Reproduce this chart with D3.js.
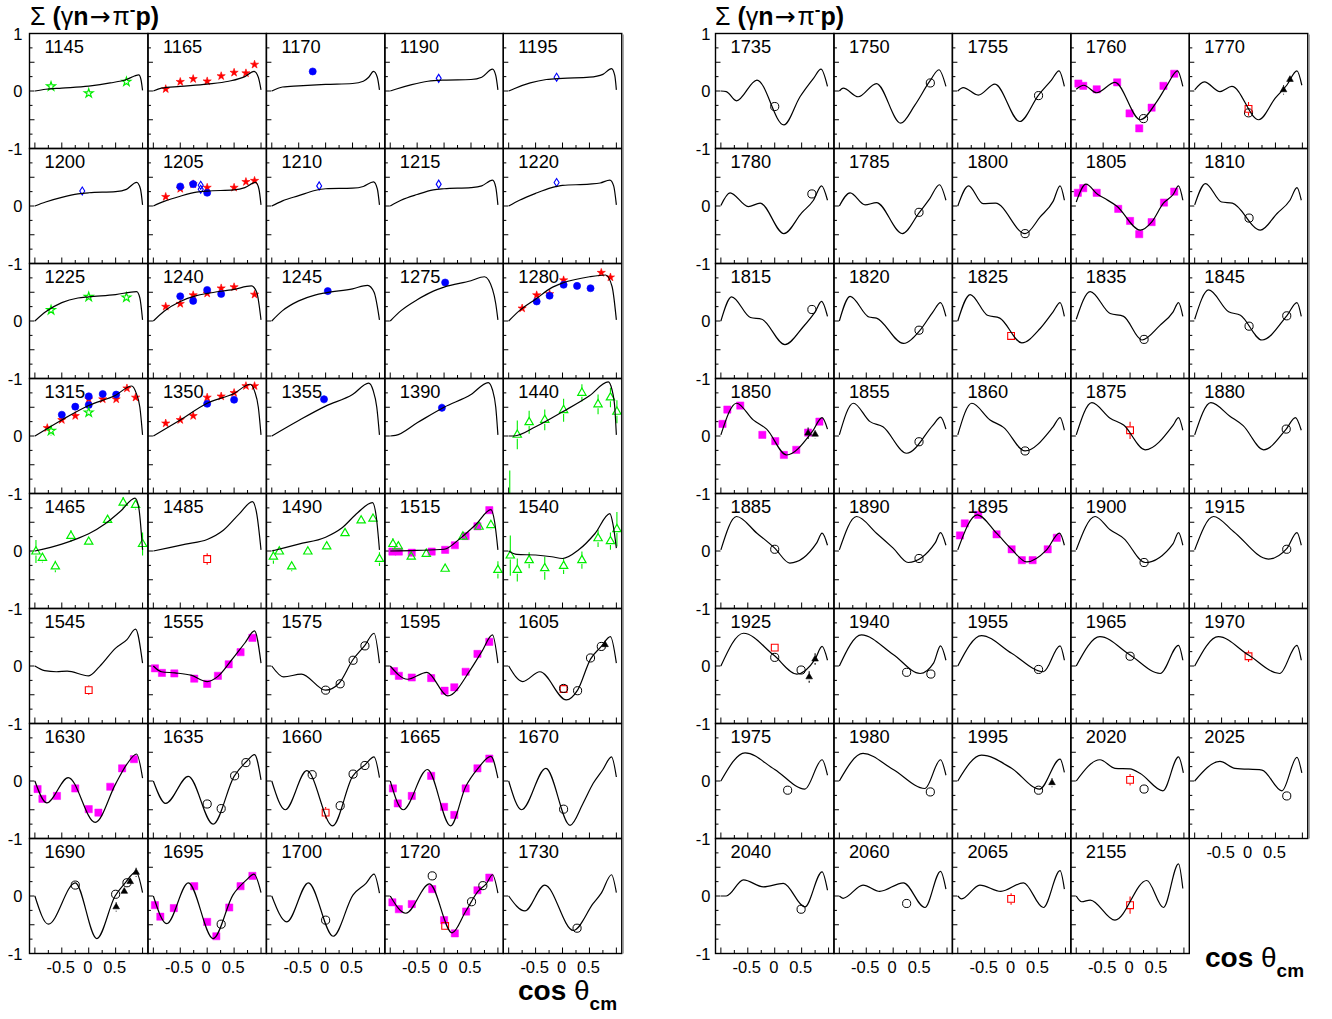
<!DOCTYPE html>
<html>
<head>
<meta charset="utf-8">
<title>Beam asymmetry Σ for γn→π⁻p</title>
<script src="https://cdn.jsdelivr.net/npm/d3@7"></script>
<style>
  html, body { margin: 0; padding: 0; background: #fff; }
  svg { display: block; }
  text { font-family: "Liberation Sans", Arial, Helvetica, sans-serif; fill: #000; }
</style>
</head>
<body>
<svg id="chart" width="1332" height="1019"></svg>
<script>
// Photon energies (MeV), one per panel, in reading order
const energiesLeft = [1145,1165,1170,1190,1195, 1200,1205,1210,1215,1220, 1225,1240,1245,1275,1280,
  1315,1350,1355,1390,1440, 1465,1485,1490,1515,1540, 1545,1555,1575,1595,1605,
  1630,1635,1660,1665,1670, 1690,1695,1700,1720,1730];
const energiesRight = [1735,1750,1755,1760,1770, 1780,1785,1800,1805,1810, 1815,1820,1825,1835,1845,
  1850,1855,1860,1875,1880, 1885,1890,1895,1900,1915, 1925,1940,1955,1965,1970,
  1975,1980,1995,2020,2025, 2040,2060,2065,2155];

// Model prediction: knots [cos θ, Σ] for each panel
const curvesLeft = [
  [[-1,0],[-0.8,0.03],[-0.5,0.05],[0,0.085],[0.4,0.14],[0.7,0.2],[0.85,0.26],[0.93,0.28],[0.97,0.2],[1,0.01]],
  [[-1,0],[-0.85,0.05],[-0.5,0.08],[0,0.12],[0.4,0.17],[0.7,0.25],[0.87,0.34],[0.95,0.24],[1,0.02]],
  [[-1,0],[-0.8,0.07],[-0.5,0.09],[0,0.115],[0.5,0.13],[0.7,0.17],[0.8,0.24],[0.89,0.34],[0.96,0.24],[1,0.02]],
  [[-1,0],[-0.9,0.03],[-0.6,0.11],[-0.3,0.17],[0,0.19],[0.5,0.2],[0.7,0.24],[0.9,0.38],[0.96,0.27],[1,0.02]],
  [[-1,0],[-0.9,0.04],[-0.6,0.14],[-0.3,0.2],[0,0.22],[0.5,0.24],[0.75,0.29],[0.91,0.39],[0.97,0.27],[1,0.02]],
  [[-1,0],[-0.8,0.07],[-0.5,0.15],[-0.2,0.21],[0,0.23],[0.5,0.25],[0.7,0.29],[0.89,0.41],[0.96,0.3],[1,0.02]],
  [[-1,0],[-0.8,0.08],[-0.5,0.17],[-0.2,0.24],[0,0.26],[0.5,0.28],[0.7,0.32],[0.9,0.41],[0.96,0.3],[1,0.02]],
  [[-1,0],[-0.8,0.09],[-0.5,0.18],[-0.2,0.27],[0,0.3],[0.5,0.31],[0.7,0.34],[0.89,0.42],[0.96,0.3],[1,0.02]],
  [[-1,0],[-0.8,0.1],[-0.5,0.2],[-0.2,0.28],[0,0.3],[0.5,0.32],[0.7,0.35],[0.9,0.45],[0.96,0.33],[1,0.02]],
  [[-1,0],[-0.8,0.1],[-0.5,0.22],[-0.2,0.32],[0,0.36],[0.5,0.38],[0.7,0.4],[0.88,0.45],[0.95,0.35],[1,0.02]],
  [[-1,0],[-0.8,0.16],[-0.5,0.32],[-0.2,0.4],[0,0.42],[0.5,0.46],[0.89,0.51],[0.95,0.4],[1,0.02]],
  [[-1,0],[-0.8,0.17],[-0.5,0.34],[-0.2,0.44],[0,0.48],[0.5,0.55],[0.82,0.61],[0.92,0.5],[1,0.02]],
  [[-1,0],[-0.8,0.18],[-0.5,0.35],[-0.2,0.45],[0,0.49],[0.5,0.56],[0.78,0.62],[0.9,0.5],[1,0.02]],
  [[-1,0],[-0.8,0.18],[-0.5,0.37],[-0.2,0.52],[0,0.59],[0.5,0.7],[0.75,0.77],[0.9,0.55],[0.96,0.3],[1,0.02]],
  [[-1,0],[-0.8,0.18],[-0.5,0.38],[-0.2,0.58],[0,0.66],[0.5,0.77],[0.8,0.8],[0.92,0.6],[1,0.02]],
  [[-1,0],[-0.5,0.28],[0,0.53],[0.5,0.71],[0.8,0.87],[0.88,0.75],[0.95,0.5],[1,0.02]],
  [[-1,0],[-0.5,0.28],[0,0.57],[0.5,0.74],[0.8,0.9],[0.88,0.78],[0.95,0.5],[1,0.02]],
  [[-1,0],[-0.5,0.27],[0,0.52],[0.5,0.72],[0.8,0.92],[0.88,0.8],[0.95,0.5],[1,0.02]],
  [[-1,0],[-0.9,0.01],[-0.5,0.23],[0,0.5],[0.5,0.72],[0.82,0.93],[0.9,0.8],[0.96,0.5],[1,0.02]],
  [[-1,0],[-0.9,0],[-0.5,0.16],[0,0.42],[0.5,0.7],[0.85,0.94],[0.92,0.8],[0.97,0.5],[1,0.02]],
  [[-1,0],[-0.5,0.12],[-0.2,0.22],[0,0.3],[0.3,0.47],[0.6,0.7],[0.86,0.92],[0.93,0.75],[1,0.02]],
  [[-1,0],[-0.7,0.06],[-0.4,0.12],[0,0.2],[0.3,0.36],[0.6,0.65],[0.84,0.86],[0.92,0.65],[1,0.02]],
  [[-1,0],[-0.5,0.12],[0,0.24],[0.3,0.4],[0.6,0.67],[0.87,0.84],[0.94,0.6],[1,0.02]],
  [[-1,0],[-0.5,0.01],[0,0.03],[0.3,0.22],[0.6,0.47],[0.87,0.72],[0.94,0.5],[1,0.02]],
  [[-1,0],[-0.85,-0.06],[-0.5,-0.07],[-0.2,-0.1],[0,-0.13],[0.3,0.02],[0.6,0.3],[0.88,0.65],[0.94,0.45],[1,0.05]],
  [[-1,0],[-0.82,-0.08],[-0.6,-0.1],[-0.4,-0.09],[0,-0.17],[0.2,-0.01],[0.5,0.31],[0.71,0.46],[0.87,0.64],[1,0.05]],
  [[-1,0],[-0.85,-0.1],[-0.6,-0.12],[-0.3,-0.16],[0,-0.27],[0.2,-0.18],[0.45,0.1],[0.7,0.4],[0.88,0.61],[1,0.05]],
  [[-1,0],[-0.78,-0.19],[-0.45,-0.14],[0,-0.42],[0.25,-0.3],[0.5,0.1],[0.73,0.36],[0.9,0.57],[1,0.05]],
  [[-1,0],[-0.68,-0.23],[-0.32,-0.11],[0.07,-0.52],[0.5,-0.05],[0.7,0.25],[0.9,0.54],[1,0.05]],
  [[-1,0],[-0.74,-0.27],[-0.42,-0.1],[0.07,-0.59],[0.28,-0.42],[0.52,0.12],[0.72,0.34],[0.89,0.51],[1,0.05]],
  [[-1,0],[-0.78,-0.38],[-0.38,0.06],[0.12,-0.72],[0.5,-0.05],[0.7,0.28],[0.89,0.47],[1,0.05]],
  [[-1,0],[-0.77,-0.39],[-0.35,0.08],[0.11,-0.75],[0.5,0.08],[0.73,0.34],[0.88,0.46],[1,0.02]],
  [[-1,0],[-0.75,-0.5],[-0.35,0.18],[0.13,-0.78],[0.5,0.08],[0.73,0.28],[0.9,0.42],[1,0.06]],
  [[-1,0],[-0.76,-0.5],[-0.31,0.2],[0.12,-0.78],[0.4,-0.1],[0.63,0.22],[0.87,0.43],[1,0.05]],
  [[-1,0],[-0.76,-0.5],[-0.31,0.22],[0.14,-0.77],[0.38,-0.39],[0.57,-0.04],[0.75,0.2],[0.91,0.42],[1,0.07]],
  [[-1,0],[-0.75,-0.49],[-0.25,0.23],[0.15,-0.74],[0.49,0],[0.67,0.22],[0.88,0.42],[1,0.06]],
  [[-1,0],[-0.75,-0.48],[-0.35,0.23],[0.11,-0.74],[0.48,0.02],[0.73,0.28],[0.87,0.38],[1,0.06]],
  [[-1,0],[-0.72,-0.45],[-0.32,0.23],[0.14,-0.7],[0.51,0.02],[0.75,0.22],[0.9,0.38],[1,0.05]],
  [[-1,0],[-0.71,-0.3],[-0.27,0.21],[0.15,-0.64],[0.4,-0.27],[0.63,0.08],[0.79,0.22],[0.9,0.37],[1,0.05]],
  [[-1,0],[-0.7,-0.26],[-0.33,0.19],[0.2,-0.6],[0.57,-0.13],[0.72,0.05],[0.91,0.37],[1,0.06]]
];
const curvesRight = [
  [[-1,0],[-0.9,-0.01],[-0.71,-0.17],[-0.33,0.19],[0.17,-0.59],[0.47,-0.1],[0.72,0.22],[0.86,0.38],[0.98,0.08]],
  [[-1,0],[-0.93,0.05],[-0.65,-0.1],[-0.31,0.13],[0.14,-0.56],[0.4,-0.25],[0.68,0.17],[0.85,0.37],[0.98,0.08]],
  [[-1,0],[-0.9,0.06],[-0.62,-0.07],[-0.31,0.12],[0.15,-0.53],[0.5,-0.07],[0.74,0.19],[0.88,0.35],[0.98,0.08]],
  [[-1,0.03],[-0.86,0.1],[-0.62,-0.03],[-0.28,0.15],[0.19,-0.5],[0.5,-0.18],[0.7,0.12],[0.88,0.35],[0.98,0.08]],
  [[-1,0.02],[-0.82,0.16],[-0.53,-0.01],[-0.31,0.08],[0.19,-0.5],[0.5,-0.12],[0.71,0.1],[0.9,0.35],[0.99,0.1]],
  [[-1,0.01],[-0.83,0.23],[-0.49,-0.01],[-0.27,0.05],[0.17,-0.48],[0.5,-0.12],[0.72,0.1],[0.87,0.35],[0.98,0.1]],
  [[-1,0],[-0.8,0.23],[-0.52,0.02],[-0.31,0.06],[0.17,-0.48],[0.48,-0.12],[0.68,0.13],[0.86,0.37],[0.98,0.1]],
  [[-1,0],[-0.8,0.35],[-0.53,0.04],[-0.3,0.05],[0.25,-0.48],[0.53,-0.19],[0.77,0.08],[0.9,0.35],[0.98,0.1]],
  [[-1,0.07],[-0.82,0.38],[-0.6,0.2],[-0.45,0.12],[-0.25,0],[0.19,-0.42],[0.4,-0.28],[0.62,0.05],[0.8,0.2],[0.9,0.35],[0.98,0.1]],
  [[-1,0.02],[-0.8,0.39],[-0.5,0.07],[-0.3,0.05],[0.22,-0.42],[0.53,-0.13],[0.77,0.1],[0.9,0.32],[0.98,0.1]],
  [[-1,0],[-0.8,0.42],[-0.45,0.06],[-0.24,0.03],[0.19,-0.41],[0.53,-0.1],[0.75,0.16],[0.87,0.34],[0.98,0.08]],
  [[-1,0],[-0.8,0.43],[-0.45,0.07],[-0.31,0.05],[0.19,-0.39],[0.5,-0.16],[0.74,0.16],[0.88,0.32],[0.98,0.08]],
  [[-1,0],[-0.77,0.46],[-0.45,0.1],[-0.22,0.05],[0.19,-0.38],[0.53,-0.13],[0.77,0.16],[0.9,0.32],[0.98,0.08]],
  [[-1,0.03],[-0.74,0.51],[-0.37,0.13],[-0.12,0.08],[0.22,-0.33],[0.55,-0.08],[0.8,0.16],[0.9,0.32],[0.98,0.08]],
  [[-1,0.03],[-0.74,0.54],[-0.37,0.16],[-0.15,0.1],[0.25,-0.33],[0.71,0.09],[0.9,0.32],[0.98,0.08]],
  [[-1,0.02],[-0.71,0.57],[-0.4,0.28],[-0.15,0.12],[0.22,-0.33],[0.7,0.08],[0.88,0.32],[0.98,0.12]],
  [[-1,0.02],[-0.74,0.57],[-0.43,0.25],[-0.19,0.16],[0.25,-0.3],[0.74,0.19],[0.88,0.33],[0.98,0.12]],
  [[-1,0.02],[-0.74,0.57],[-0.4,0.28],[-0.15,0.15],[0.25,-0.26],[0.77,0.16],[0.9,0.32],[0.98,0.1]],
  [[-1,0.02],[-0.71,0.58],[-0.37,0.31],[-0.12,0.19],[0.28,-0.24],[0.8,0.19],[0.9,0.32],[0.98,0.1]],
  [[-1,0.02],[-0.7,0.58],[-0.34,0.34],[-0.1,0.18],[0.28,-0.24],[0.7,0.12],[0.87,0.32],[0.98,0.1]],
  [[-1,0.02],[-0.71,0.6],[-0.33,0.31],[0,0.05],[0.28,-0.21],[0.78,0.14],[0.88,0.31],[0.98,0.1]],
  [[-1,0.02],[-0.68,0.6],[-0.31,0.31],[0,0.05],[0.28,-0.2],[0.78,0.14],[0.88,0.32],[0.98,0.1]],
  [[-1,0.02],[-0.64,0.63],[-0.28,0.31],[0,0.03],[0.28,-0.19],[0.65,0.02],[0.89,0.31],[0.98,0.1]],
  [[-1,0.02],[-0.65,0.6],[-0.37,0.37],[-0.12,0.22],[0.28,-0.2],[0.8,0.13],[0.9,0.32],[0.98,0.1]],
  [[-1,0.02],[-0.65,0.6],[-0.28,0.34],[0.37,-0.14],[0.71,0.04],[0.9,0.32],[0.98,0.1]],
  [[-1,0],[-0.58,0.57],[-0.02,0.19],[0.41,-0.14],[0.75,0.12],[0.88,0.34],[0.98,0.1]],
  [[-1,0],[-0.59,0.54],[0,0.2],[0.5,-0.13],[0.75,0.05],[0.88,0.35],[0.98,0.1]],
  [[-1,0],[-0.56,0.53],[0,0.22],[0.59,-0.1],[0.9,0.35],[0.98,0.1]],
  [[-1,0],[-0.56,0.51],[0,0.19],[0.56,-0.13],[0.9,0.36],[0.98,0.1]],
  [[-1,0],[-0.56,0.51],[0,0.19],[0.58,-0.13],[0.9,0.36],[0.98,0.1]],
  [[-1,0],[-0.55,0.49],[0,0.2],[0.56,-0.14],[0.88,0.37],[0.98,0.1]],
  [[-1,0],[-0.56,0.48],[0,0.2],[0.59,-0.13],[0.88,0.37],[0.98,0.1]],
  [[-1,0],[-0.56,0.45],[0,0.22],[0.52,-0.14],[0.9,0.38],[0.98,0.15]],
  [[-1,0],[-0.56,0.37],[-0.28,0.22],[0,0.21],[0.19,0.13],[0.61,-0.17],[0.9,0.42],[0.99,0.14]],
  [[-1,0],[-0.53,0.34],[-0.25,0.22],[0.25,0.19],[0.62,-0.17],[0.9,0.41],[0.99,0.14]],
  [[-1,0],[-0.9,0],[-0.58,0.28],[-0.21,0.16],[0.16,0.22],[0.56,-0.19],[0.88,0.42],[0.98,0.1]],
  [[-1,0],[-0.93,-0.04],[-0.56,0.19],[-0.25,0.08],[0.19,0.23],[0.59,-0.2],[0.88,0.43],[0.98,0.12]],
  [[-1,0],[-0.93,-0.05],[-0.59,0.19],[-0.2,0.08],[0.22,0.23],[0.59,-0.2],[0.9,0.44],[0.98,0.12]],
  [[-1,0],[-0.9,-0.1],[-0.74,-0.07],[-0.28,-0.42],[0.31,0.27],[0.62,-0.2],[0.9,0.56],[0.98,0.13]]
];

// Measurements per panel: [data set, cos θ, Σ, error]
const pointsLeft = [
  [['gs',-0.7,0.08,0.02],['gs',0,-0.04,0.02],['gs',0.7,0.16,0.02]],
  [['rs',-0.77,0.035,0.02],['rs',-0.5,0.16,0.02],['rs',-0.26,0.21,0.02],['rs',0,0.17,0.02],['rs',0.26,0.26,0.02],['rs',0.5,0.32,0.02],['rs',0.72,0.31,0.02],['rs',0.88,0.46,0.02]],
  [['bc',-0.24,0.34,0.05]],
  [['bd',-0.1,0.22,0.05]],
  [['bd',-0.11,0.24,0.02]],
  [['bd',-0.12,0.26,0.02]],
  [['rs',-0.77,0.16,0.02],['rs',-0.5,0.3,0.02],['rs',-0.26,0.38,0.02],['rs',0,0.32,0.02],['rs',0.5,0.32,0.02],['rs',0.72,0.42,0.02],['rs',0.88,0.44,0.02],
   ['bc',-0.5,0.34,0.03],['bc',-0.26,0.38,0.03],['bc',0,0.23,0.03],['bd',-0.12,0.36,0.03],['bd',-0.12,0.29,0.03]],
  [['bd',-0.12,0.35,0.02]],
  [['bd',-0.1,0.38,0.02]],
  [['bd',-0.11,0.41,0.02]],
  [['gs',-0.7,0.19,0.02],['gs',0,0.42,0.02],['gs',0.7,0.41,0.02]],
  [['rs',-0.77,0.25,0.02],['rs',-0.5,0.3,0.02],['rs',-0.26,0.45,0.02],['rs',0,0.48,0.02],['rs',0.26,0.57,0.02],['rs',0.5,0.59,0.02],['rs',0.88,0.46,0.02],
   ['bc',-0.5,0.43,0.03],['bc',-0.26,0.35,0.03],['bc',0,0.54,0.03],['bc',0.26,0.47,0.03]],
  [['bc',0.04,0.52,0.05]],
  [['bc',0.02,0.67,0.05]],
  [['rs',-0.75,0.22,0.03],['rs',-0.48,0.45,0.03],['rs',-0.24,0.47,0.03],['rs',0.02,0.71,0.03],['rs',0.72,0.84,0.03],['rs',0.89,0.76,0.04],
   ['bc',-0.48,0.34,0.03],['bc',-0.24,0.44,0.03],['bc',0.02,0.63,0.03],['bc',0.27,0.61,0.03],['bc',0.52,0.57,0.03]],
  [['rs',-0.77,0.14,0.03],['rs',-0.5,0.28,0.03],['rs',-0.25,0.35,0.03],['rs',0,0.64,0.03],['rs',0.26,0.64,0.03],['rs',0.51,0.64,0.03],['rs',0.71,0.83,0.03],['rs',0.87,0.67,0.03],
   ['bc',-0.5,0.37,0.04],['bc',-0.25,0.51,0.05],['bc',0,0.54,0.04],['bc',0,0.69,0.04],['bc',0.26,0.73,0.03],['bc',0.51,0.72,0.03],
   ['gs',-0.7,0.09,0.08],['gs',0,0.41,0.03]],
  [['rs',-0.77,0.22,0.03],['rs',-0.5,0.28,0.03],['rs',-0.26,0.35,0.03],['rs',0,0.67,0.04],['rs',0.26,0.69,0.03],['rs',0.5,0.75,0.04],['rs',0.72,0.87,0.04],['rs',0.88,0.87,0.05],
   ['bc',0,0.56,0.04],['bc',0.5,0.63,0.04]],
  [['bc',-0.03,0.64,0.07]],
  [['bc',-0.04,0.49,0.07]],
  [['gt',-0.98,-1.3,0.7],['gt',-0.84,0.02,0.25],['gt',-0.62,0.24,0.2],['gt',-0.33,0.28,0.18],['gt',0.02,0.45,0.2],['gt',0.36,0.75,0.15],['gt',0.66,0.55,0.17],['gt',0.89,0.67,0.17],['gt',1.01,0.42,0.2]],
  [['gt',-0.98,-0.01,0.2],['gt',-0.86,-0.12,0.08],['gt',-0.62,-0.27,0.1],['gt',-0.33,0.26,0.1],['gt',0,0.16,0.05],['gt',0.35,0.54,0.07],['gt',0.64,0.84,0.1],['gt',0.87,0.8,0.08],['gt',1.0,0.12,0.2]],
  [['rq',0,-0.14,0.1]],
  [['gt',-0.97,-0.1,0.12],['gt',-0.86,-0.01,0.05],['gt',-0.63,-0.27,0.08],['gt',-0.33,-0.01,0.05],['gt',0.02,0.08,0.05],['gt',0.36,0.31,0.05],['gt',0.66,0.53,0.06],['gt',0.88,0.56,0.05],['gt',1.0,-0.14,0.12]],
  [['mq',-0.96,-0.01,0.02],['mq',-0.84,-0.01,0.02],['mq',-0.6,-0.03,0.02],['mq',-0.23,-0.01,0.02],['mq',0.02,0.02,0.02],['mq',0.2,0.1,0.02],['mq',0.4,0.26,0.02],['mq',0.62,0.43,0.02],['mq',0.84,0.71,0.02],
   ['gt',-0.95,0.12,0.1],['gt',-0.85,0.08,0.05],['gt',-0.61,-0.1,0.05],['gt',-0.33,-0.05,0.05],['gt',0.02,-0.31,0.05],['gt',0.35,0.25,0.05],['gt',0.65,0.42,0.05],['gt',0.87,0.45,0.07],['gt',1.0,-0.33,0.15]],
  [['gt',-0.97,-0.08,0.35],['gt',-0.84,-0.33,0.2],['gt',-0.62,-0.16,0.14],['gt',-0.33,-0.3,0.2],['gt',0.02,-0.26,0.14],['gt',0.36,-0.16,0.15],['gt',0.66,0.22,0.15],['gt',0.89,0.17,0.15],['gt',1.01,0.38,0.3]],
  [['rq',0,-0.42,0.08]],
  [['mq',-0.97,-0.04,0.02],['mq',-0.84,-0.12,0.02],['mq',-0.61,-0.13,0.02],['mq',-0.24,-0.22,0.02],['mq',0,-0.31,0.02],['mq',0.2,-0.17,0.02],['mq',0.4,0.03,0.02],['mq',0.62,0.24,0.02],['mq',0.84,0.49,0.02]],
  [['kc',0,-0.42,0.02],['kc',0.27,-0.31,0.02],['kc',0.51,0.1,0.02],['kc',0.73,0.35,0.02]],
  [['mq',-0.93,-0.09,0.02],['mq',-0.84,-0.17,0.02],['mq',-0.6,-0.2,0.02],['mq',-0.24,-0.21,0.02],['mq',0.01,-0.43,0.02],['mq',0.19,-0.37,0.02],['mq',0.4,-0.1,0.02],['mq',0.62,0.21,0.02],['mq',0.84,0.42,0.02]],
  [['rq',0.02,-0.4,0.07],['kc',0.02,-0.39,0.02],['kc',0.28,-0.43,0.02],['kc',0.52,0.14,0.02],['kc',0.72,0.34,0.02],['kt',0.79,0.37,0.07]],
  [['mq',-0.95,-0.14,0.02],['mq',-0.86,-0.31,0.02],['mq',-0.59,-0.26,0.02],['mq',-0.25,-0.13,0.02],['mq',0,-0.49,0.02],['mq',0.18,-0.55,0.02],['mq',0.4,-0.1,0.02],['mq',0.62,0.22,0.02],['mq',0.84,0.38,0.02]],
  [['kc',0,-0.4,0.02],['kc',0.26,-0.48,0.02],['kc',0.51,0.09,0.02],['kc',0.72,0.32,0.02]],
  [['kc',-0.25,0.11,0.02],['kc',0.27,-0.43,0.02],['kc',0.51,0.12,0.02],['kc',0.73,0.27,0.02],['rq',0,-0.55,0.1]],
  [['mq',-0.95,-0.13,0.02],['mq',-0.86,-0.39,0.02],['mq',-0.6,-0.26,0.02],['mq',-0.24,0.09,0.02],['mq',0,-0.45,0.02],['mq',0.19,-0.59,0.02],['mq',0.4,-0.13,0.02],['mq',0.62,0.22,0.02],['mq',0.84,0.39,0.02]],
  [['kc',0.02,-0.49,0.02]],
  [['kc',-0.25,0.19,0.02],['kc',0.5,0.03,0.02],['kc',0.71,0.23,0.02],['kt',0.51,-0.19,0.08],['kt',0.66,0.08,0.06],['kt',0.77,0.25,0.06],['kt',0.88,0.41,0.08]],
  [['mq',-0.97,-0.16,0.02],['mq',-0.87,-0.36,0.02],['mq',-0.62,-0.21,0.02],['mq',-0.24,0.17,0.02],['mq',0,-0.45,0.02],['mq',0.17,-0.7,0.02],['mq',0.41,-0.2,0.02],['mq',0.62,0.17,0.02],['mq',0.84,0.35,0.02],['kc',0.26,-0.49,0.02]],
  [['kc',0,-0.42,0.02]],
  [['mq',-0.96,-0.11,0.02],['mq',-0.84,-0.23,0.02],['mq',-0.6,-0.14,0.02],['mq',-0.22,0.12,0.02],['mq',0,-0.42,0.02],['mq',0.2,-0.65,0.02],['mq',0.41,-0.27,0.02],['mq',0.62,0.1,0.02],['mq',0.84,0.32,0.02],
   ['kc',-0.22,0.35,0.03],['kc',0.51,-0.1,0.02],['kc',0.72,0.18,0.02],['rq',0.02,-0.52,0.07]],
  [['kc',0.27,-0.56,0.02]]
];
const pointsRight = [
  [['kc',0,-0.27,0.02]],
  [['kc',0.69,0.14,0.02]],
  [['kc',0.5,-0.08,0.02]],
  [['mq',-0.96,0.13,0.02],['mq',-0.87,0.09,0.02],['mq',-0.62,0.03,0.02],['mq',-0.24,0.15,0.02],['mq',-0.01,-0.39,0.02],['mq',0.17,-0.65,0.02],['mq',0.4,-0.29,0.02],['mq',0.62,0.09,0.02],['mq',0.82,0.3,0.02],['kc',0.25,-0.48,0.02]],
  [['kc',0,-0.38,0.03],['rq',0,-0.31,0.12],['kt',0.65,0.02,0.08],['kt',0.77,0.2,0.06]],
  [['kc',0.69,0.21,0.02]],
  [['kc',0.48,-0.11,0.02]],
  [['kc',0.25,-0.48,0.02]],
  [['mq',-0.97,0.23,0.02],['mq',-0.87,0.31,0.02],['mq',-0.62,0.23,0.02],['mq',-0.22,-0.05,0.02],['mq',0,-0.26,0.02],['mq',0.17,-0.49,0.02],['mq',0.4,-0.28,0.02],['mq',0.63,0.06,0.02],['mq',0.82,0.25,0.02]],
  [['kc',0.01,-0.21,0.02]],
  [['kc',0.69,0.2,0.02]],
  [['kc',0.48,-0.16,0.02]],
  [['rq',-0.01,-0.26,0.07]],
  [['kc',0.26,-0.32,0.02]],
  [['kc',0.01,-0.09,0.05],['kc',0.71,0.09,0.02]],
  [['mq',-0.97,0.21,0.02],['mq',-0.88,0.46,0.02],['mq',-0.64,0.53,0.02],['mq',-0.23,0.02,0.02],['mq',0.01,-0.09,0.02],['mq',0.17,-0.33,0.02],['mq',0.4,-0.24,0.02],['mq',0.62,0.06,0.02],['mq',0.83,0.25,0.02],
   ['kt',0.62,0.05,0.1],['kt',0.75,0.03,0.07]],
  [['kc',0.48,-0.1,0.02]],
  [['kc',0.25,-0.26,0.02]],
  [['rq',0,0.1,0.15]],
  [['kc',0.7,0.12,0.02]],
  [['kc',0,0.03,0.02]],
  [['kc',0.48,-0.13,0.02]],
  [['mq',-0.96,0.27,0.02],['mq',-0.87,0.48,0.02],['mq',-0.62,0.63,0.02],['mq',-0.28,0.29,0.04],['mq',0,0.03,0.02],['mq',0.19,-0.16,0.02],['mq',0.39,-0.16,0.02],['mq',0.67,0.03,0.02],['mq',0.84,0.23,0.02]],
  [['kc',0.26,-0.2,0.02]],
  [['kc',0.71,0.03,0.02]],
  [['rq',0,0.32,0.02],['kc',0,0.15,0.02],['kc',0.49,-0.07,0.02],['kt',0.64,-0.19,0.1],['kt',0.75,0.12,0.1]],
  [['kc',0.25,-0.11,0.02],['kc',0.7,-0.14,0.02]],
  [['kc',0.5,-0.06,0.02]],
  [['kc',0,0.17,0.02]],
  [['rq',0,0.17,0.1]],
  [['kc',0.24,-0.16,0.05]],
  [['kc',0.69,-0.19,0.02]],
  [['kc',0.5,-0.16,0.02],['kt',0.75,-0.03,0.08]],
  [['rq',0,0.02,0.1],['kc',0.26,-0.14,0.02]],
  [['kc',0.71,-0.26,0.02]],
  [['kc',0.49,-0.23,0.02]],
  [['kc',0.25,-0.13,0.07]],
  [['rq',-0.01,-0.05,0.1]],
  [['rq',0,-0.16,0.15]]
];

// Axis ticks and labels
const xTicks = [-1,-0.75,-0.5,-0.25,0,0.25,0.5,0.75,1];
const yTicks = [-0.75,-0.5,-0.25,0,0.25,0.5,0.75];
const xTickLabels = [-0.5, 0, 0.5];
const yTickLabels = [1, 0, -1];

// ---------------------------------------------------------------
const GREEN = '#00ee00', RED = '#ff0000', BLUE = '#0000ff', MAGENTA = '#ff00ff', BLACK = '#000000';
const markerStyle = {
  gs: { shape: 'star',     size: 24, fill: 'none',  stroke: GREEN,  sw: 1.2 },
  rs: { shape: 'star',     size: 21, fill: RED,     stroke: RED,    sw: 0.6 },
  bc: { shape: 'circle',   size: 40, fill: BLUE,    stroke: BLUE,   sw: 0.6 },
  bd: { shape: 'diamond',  size: 0,  fill: 'none',  stroke: BLUE,   sw: 1.1 },
  gt: { shape: 'triangle', size: 30, fill: 'none',  stroke: GREEN,  sw: 1.2 },
  rq: { shape: 'square',   size: 46, fill: 'none',  stroke: RED,    sw: 1.1 },
  mq: { shape: 'square',   size: 52, fill: MAGENTA, stroke: MAGENTA,sw: 0.5 },
  kc: { shape: 'circle',   size: 52, fill: 'none',  stroke: BLACK,  sw: 1.0 },
  kt: { shape: 'triangle', size: 19, fill: BLACK,   stroke: BLACK,  sw: 0.6 }
};
const symbolTypes = { star: d3.symbolStar, circle: d3.symbolCircle, triangle: d3.symbolTriangle, square: d3.symbolSquare };
function markerPath(st) {
  if (st.shape === 'diamond') return 'M0,-4L2.5,0L0,4L-2.5,0Z';
  return d3.symbol().type(symbolTypes[st.shape]).size(st.size)();
}

const svg = d3.select('#chart');
const COLS = 5, COL_W = 118.45, ROW_H = 115, TOP = 33.5;
const AXIS_FONT = 16.5, LABEL_FONT = 18.3;

const grids = [
  { id: 'L', x0: 29.5, energies: energiesLeft, curves: curvesLeft, points: pointsLeft, ylabX: 22.5,
    title: [30, 25], xlab: [518, 1000] },
  { id: 'R', x0: 715.5, energies: energiesRight, curves: curvesRight, points: pointsRight, ylabX: 710.5,
    title: [715, 25], xlab: [1205, 967] }
];

const defs = svg.append('defs');

function drawPanel(g, i) {
  const n = g.energies.length;
  const col = i % COLS, row = Math.floor(i / COLS);
  const left = g.x0 + col * COL_W, top = TOP + row * ROW_H;
  const x = d3.scaleLinear().domain([-1.1, 1.1]).range([left, left + COL_W]);
  const y = d3.scaleLinear().domain([-1, 1]).range([top + ROW_H, top]);
  const clipId = `clip-${g.id}-${i}`;
  defs.append('clipPath').attr('id', clipId)
    .append('rect').attr('x', left).attr('y', top).attr('width', COL_W).attr('height', ROW_H);

  const p = svg.append('g').attr('class', 'panel');

  // tick marks along the bottom (cos θ) and the left (Σ) edges
  p.append('g').selectAll('line').data(xTicks).join('line')
    .attr('x1', d => x(d)).attr('x2', d => x(d))
    .attr('y1', y(-1)).attr('y2', d => y(-1) - (Math.abs(d * 2 % 1) < 1e-9 ? 6 : 3.5))
    .attr('stroke', BLACK).attr('stroke-width', 1);
  p.append('g').selectAll('line').data(yTicks).join('line')
    .attr('y1', d => y(d)).attr('y2', d => y(d))
    .attr('x1', left).attr('x2', d => left + (Math.abs(d * 2 % 1) < 1e-9 ? 5 : 3))
    .attr('stroke', BLACK).attr('stroke-width', 1);

  const inner = p.append('g').attr('clip-path', `url(#${clipId})`);

  // measurements with vertical error bars
  const pts = g.points[i] || [];
  const gap = 3.8;
  pts.forEach(([set, c, v, e]) => {
    const st = markerStyle[set];
    const px = x(c), py = y(v), yHi = y(v + e), yLo = y(v - e);
    if (py - yHi > gap) inner.append('line').attr('x1', px).attr('x2', px).attr('y1', yHi).attr('y2', py - gap)
      .attr('stroke', st.stroke).attr('stroke-width', 1.1);
    if (yLo - py > gap) inner.append('line').attr('x1', px).attr('x2', px).attr('y1', py + gap).attr('y2', yLo)
      .attr('stroke', st.stroke).attr('stroke-width', 1.1);
    inner.append('path').attr('d', markerPath(st))
      .attr('transform', `translate(${px},${py})`)
      .attr('fill', st.fill).attr('stroke', st.stroke).attr('stroke-width', st.sw);
  });

  // model curve
  const line = d3.line().x(d => x(d[0])).y(d => y(d[1])).curve(d3.curveMonotoneX);
  inner.append('path').datum(g.curves[i]).attr('d', line)
    .attr('fill', 'none').attr('stroke', BLACK).attr('stroke-width', 1.2);

  // frame
  p.append('rect').attr('x', left).attr('y', top).attr('width', COL_W).attr('height', ROW_H)
    .attr('fill', 'none').attr('stroke', BLACK).attr('stroke-width', 1.4);

  // energy label
  p.append('text').attr('x', left + 15).attr('y', top + 19)
    .attr('font-size', LABEL_FONT).text(g.energies[i]);

  // cos θ tick labels under the lowest panel of each column
  if (i + COLS >= n) {
    p.append('g').selectAll('text').data(xTickLabels).join('text')
      .attr('x', d => x(d) - 1).attr('y', y(-1) + 19.5)
      .attr('text-anchor', 'middle').attr('font-size', AXIS_FONT)
      .text(d => String(d));
  }
  // Σ tick labels left of the first column
  if (col === 0) {
    const vals = row === 0 ? yTickLabels : yTickLabels.slice(1);
    p.append('g').selectAll('text').data(vals).join('text')
      .attr('x', g.ylabX).attr('y', d => y(d) + 6)
      .attr('text-anchor', 'end').attr('font-size', AXIS_FONT)
      .text(d => String(d));
  }
}

grids.forEach(g => {
  g.energies.forEach((e, i) => drawPanel(g, i));

  // shading along the right edge of the grid
  const fullRows = Math.floor(g.energies.length / COLS);
  const xr = g.x0 + COLS * COL_W + 1.2;
  svg.append('line').attr('x1', xr).attr('x2', xr)
    .attr('y1', TOP + 1).attr('y2', TOP + fullRows * ROW_H)
    .attr('stroke', '#8a8a8a').attr('stroke-width', 1.6);

  // observable title
  const t = svg.append('text').attr('x', g.title[0]).attr('y', g.title[1])
    .attr('font-size', 25).attr('font-weight', 'bold');
  t.append('tspan').attr('font-weight', 'normal').text('Σ');
  t.append('tspan').text(' (');
  t.append('tspan').attr('font-weight', 'normal').text('γ');
  t.append('tspan').text('n');
  t.append('tspan').attr('font-weight', 'normal').attr('font-family', '"DejaVu Sans", sans-serif')
    .attr('font-size', 25).attr('dx', 1).text('→');
  t.append('tspan').attr('font-weight', 'normal').attr('dx', 2).text('π');
  t.append('tspan').attr('font-size', 17).attr('dy', -10).text('-');
  t.append('tspan').attr('dy', 10).text('p)');

  // x-axis title
  const a = svg.append('text').attr('x', g.xlab[0]).attr('y', g.xlab[1])
    .attr('font-size', 28).attr('font-weight', 'bold');
  a.append('tspan').text('cos ');
  a.append('tspan').attr('font-weight', 'normal').text('θ');
  a.append('tspan').attr('font-size', 19).attr('dy', 10).text('cm');
});
</script>
</body>
</html>
